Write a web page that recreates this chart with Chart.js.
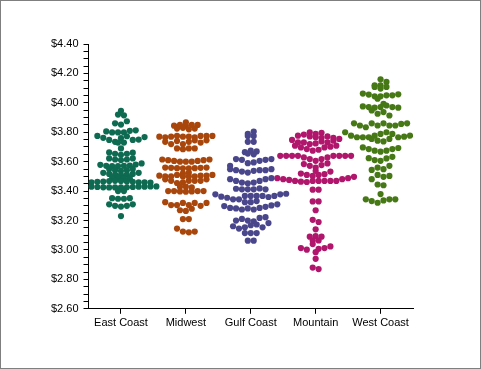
<!DOCTYPE html>
<html>
<head>
<meta charset="utf-8">
<script src="https://cdn.jsdelivr.net/npm/chart.js@4.4.1/dist/chart.umd.min.js"></script>
<style>
  body { margin: 0; background: #fff; }
  #wrap { width: 481px; height: 369px; box-sizing: border-box; border: 1px solid #7f7f7f; }
  canvas { display: block; }
</style>
</head>
<body>
<div id="wrap"><canvas id="myChart" width="479" height="367"></canvas></div>
<script>
// categorias
var regiones = ['East Coast', 'Midwest', 'Gulf Coast', 'Mountain', 'West Coast'];
var colores = ['#0e6a50', '#a8460c', '#4a468c', '#b0166c', '#467816'];

// precios, una fila de puntos por sub-lista (de arriba a abajo)
var eastCoast = [
    [3.946],
    [3.92, 3.915],
    [3.861, 3.852, 3.875],
    [3.806, 3.799, 3.799, 3.799, 3.81, 3.813],
    [3.775, 3.762, 3.748, 3.735, 3.76, 3.773, 3.748, 3.75, 3.767],
    [3.73, 3.73],
    [3.69],
    [3.663, 3.654, 3.647, 3.654, 3.661],
    [3.622, 3.615, 3.611, 3.615, 3.622],
    [3.579, 3.572, 3.57, 3.57, 3.572, 3.574, 3.581, 3.588],
    [3.551, 3.542, 3.538, 3.542, 3.551],
    [3.524, 3.517, 3.512, 3.51, 3.512, 3.517, 3.524],
    [3.488, 3.49, 3.486, 3.488],
    [3.46, 3.463, 3.465, 3.468, 3.47, 3.468, 3.465, 3.463, 3.46, 3.46, 3.458],
    [3.432, 3.43, 3.428, 3.426, 3.425, 3.425, 3.425, 3.426, 3.428, 3.43, 3.43, 3.432, 3.432],
    [3.40, 3.40],
    [3.352, 3.348, 3.348, 3.352],
    [3.31, 3.30, 3.295, 3.30, 3.31],
    [3.23]
];
var midwest = [
    [3.868],
    [3.845, 3.85, 3.845, 3.85, 3.85],
    [3.825, 3.83, 3.82, 3.825],
    [3.77, 3.765, 3.77, 3.775, 3.77, 3.77, 3.765, 3.775, 3.775, 3.775],
    [3.735, 3.72, 3.74, 3.72, 3.735, 3.745, 3.73, 3.745],
    [3.69, 3.685, 3.69, 3.69],
    [3.615, 3.61, 3.605, 3.60, 3.60, 3.60, 3.605, 3.61, 3.615],
    [3.56, 3.558, 3.556, 3.555, 3.555, 3.556, 3.558, 3.56],
    [3.52, 3.525],
    [3.505, 3.50, 3.50, 3.51, 3.50, 3.50, 3.50, 3.505, 3.505, 3.51],
    [3.48, 3.47, 3.455, 3.46, 3.47, 3.47, 3.47, 3.48],
    [3.43, 3.43, 3.425],
    [3.40, 3.40, 3.398, 3.396, 3.398, 3.40, 3.40],
    [3.325, 3.305, 3.305, 3.32, 3.305, 3.32, 3.30, 3.32],
    [3.27, 3.265, 3.28],
    [3.21, 3.21],
    [3.145, 3.125, 3.12, 3.125]
];
var gulfCoast = [
    [3.79, 3.805],
    [3.775, 3.775],
    [3.735, 3.735],
    [3.665, 3.675, 3.67],
    [3.655, 3.65],
    [3.572, 3.618, 3.613, 3.59, 3.595, 3.606, 3.613, 3.618],
    [3.549, 3.542, 3.533, 3.526, 3.538, 3.542, 3.542, 3.549],
    [3.481, 3.469, 3.458, 3.453, 3.458, 3.469, 3.481, 3.488],
    [3.416, 3.412, 3.412, 3.412, 3.418, 3.412],
    [3.378, 3.362, 3.355, 3.344, 3.344, 3.367, 3.367, 3.367, 3.367, 3.36, 3.367, 3.378, 3.382],
    [3.325, 3.325, 3.332],
    [3.298, 3.286, 3.282, 3.275, 3.282, 3.275, 3.286, 3.293, 3.303, 3.31],
    [3.20, 3.211, 3.20, 3.195, 3.218, 3.223],
    [3.161, 3.145, 3.154, 3.168, 3.173, 3.154, 3.183],
    [3.115, 3.115, 3.115],
    [3.063, 3.063]
];
var mountain = [
    [3.80, 3.789, 3.796],
    [3.777, 3.784, 3.772, 3.766, 3.762, 3.772, 3.762],
    [3.748, 3.731, 3.731, 3.72, 3.724, 3.738, 3.731, 3.743, 3.755],
    [3.709, 3.697, 3.686, 3.675, 3.681, 3.697, 3.702, 3.709],
    [3.64, 3.64, 3.64, 3.64, 3.629, 3.618, 3.606, 3.618, 3.629, 3.64, 3.64, 3.64, 3.64],
    [3.584, 3.572, 3.56, 3.577, 3.588],
    [3.538],
    [3.519, 3.51, 3.503, 3.51, 3.515, 3.533],
    [3.488, 3.481, 3.476, 3.469, 3.464, 3.462, 3.469, 3.469, 3.469, 3.469, 3.469, 3.481, 3.488, 3.497],
    [3.41, 3.41],
    [3.33, 3.33],
    [3.27],
    [3.205, 3.19],
    [3.14],
    [3.09, 3.095, 3.09],
    [3.065, 3.065],
    [3.013, 3.002, 3.04, 3.008, 3.013, 3.024],
    [2.985],
    [2.94],
    [2.88, 2.87]
];
var westCoast = [
    [4.16],
    [4.119, 4.119, 4.142],
    [4.108, 4.097, 4.108],
    [4.063, 4.056, 4.044, 4.044, 4.051, 4.051, 4.058],
    [4.028, 3.994],
    [3.976, 3.971, 3.967, 3.971, 3.982, 3.971, 3.967],
    [3.948, 3.926, 3.937, 3.914],
    [3.861, 3.846, 3.834, 3.861, 3.846, 3.861, 3.846, 3.846, 3.857, 3.861],
    [3.80, 3.777, 3.766, 3.766, 3.766, 3.777, 3.789, 3.80, 3.789, 3.766, 3.77, 3.777, 3.777],
    [3.755, 3.743, 3.738, 3.755],
    [3.697, 3.686, 3.675, 3.668, 3.675, 3.686, 3.693],
    [3.624, 3.611, 3.606, 3.622, 3.633],
    [3.544, 3.56, 3.549, 3.572],
    [3.481, 3.51, 3.497, 3.503],
    [3.445, 3.44],
    [3.38],
    [3.344, 3.332, 3.321, 3.337, 3.344, 3.344]
];

var precios = [eastCoast, midwest, gulfCoast, mountain, westCoast];

// Repartir cada fila a los lados del centro de la categoria
function enjambre(filas, centro, paso) {
    var puntos = [];
    filas.forEach(function (fila) {
        var n = fila.length;
        fila.forEach(function (v, i) {
            puntos.push({ x: centro + (i - (n - 1) / 2) * paso, y: v });
        });
    });
    return puntos;
}

var ctx = document.getElementById('myChart').getContext('2d');
var myChart = new Chart(ctx, {
    type: 'scatter',
    data: {
        datasets: regiones.map(function (r, i) {
            return {
                label: r,
                data: [],
                backgroundColor: colores[i],
                borderColor: colores[i],
                borderWidth: 0,
                pointRadius: 3.1,
                pointHoverRadius: 3.1
            };
        })
    },
    options: {
        animation: false,
        responsive: false,
        layout: { padding: { left: 45, top: 43, right: 67, bottom: 35 } },
        plugins: { legend: { display: false }, tooltip: { enabled: false } },
        scales: {
            x: {
                type: 'linear',
                min: 0.5,
                max: 5.5,
                afterBuildTicks: function (scale) {
                    scale.ticks = regiones.map(function (r, i) { return { value: i + 1 }; });
                },
                ticks: {
                    autoSkip: false,
                    maxRotation: 0,
                    padding: 3,
                    color: '#000',
                    font: { family: 'Liberation Sans, Arial', size: 11 },
                    callback: function (v) { return regiones[Math.round(v) - 1] || ''; }
                },
                grid: { drawOnChartArea: false, drawTicks: true, tickLength: 5, tickColor: '#000' },
                border: { color: '#000', width: 1 }
            },
            y: {
                min: 2.6,
                max: 4.4,
                ticks: {
                    stepSize: 0.05,
                    autoSkip: false,
                    padding: 5,
                    color: '#000',
                    font: { family: 'Liberation Sans, Arial', size: 11 },
                    callback: function (v) {
                        var k = v * 5;
                        return Math.abs(k - Math.round(k)) < 1e-6 ? '$' + v.toFixed(2) : '';
                    }
                },
                grid: { drawOnChartArea: false, drawTicks: true, tickLength: 5, tickColor: '#000' },
                border: { color: '#000', width: 1 }
            }
        }
    }
});

// Calcular el enjambre con la escala real del grafico
var escalaX = myChart.scales.x;
var paso = 5.9 / (escalaX.getPixelForValue(1) - escalaX.getPixelForValue(0));
precios.forEach(function (filas, i) {
    myChart.data.datasets[i].data = enjambre(filas, i + 1, paso);
});
myChart.update();
</script>
</body>
</html>
